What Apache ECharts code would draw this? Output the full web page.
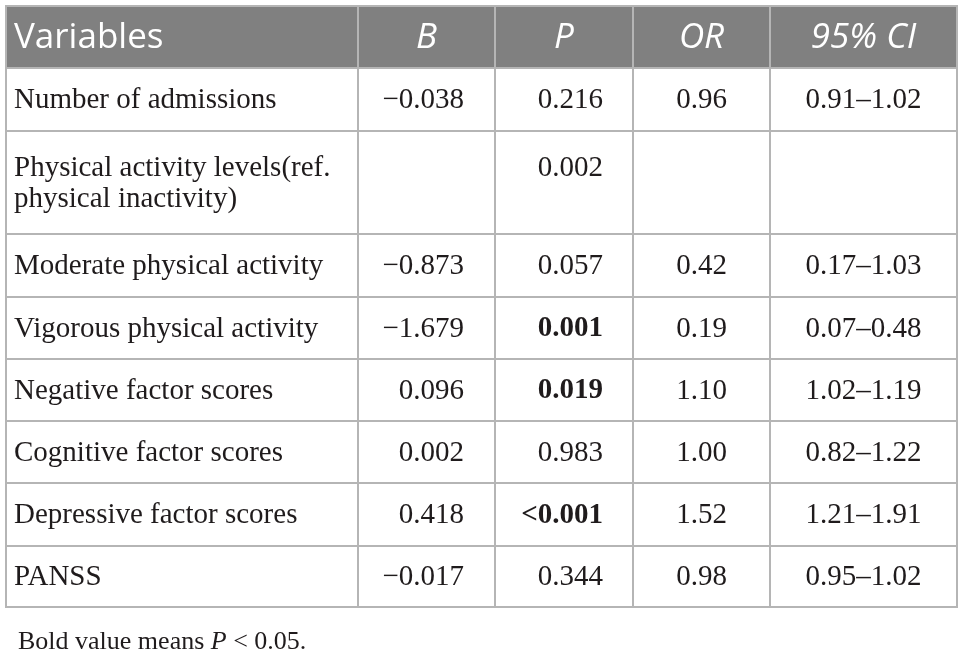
<!DOCTYPE html>
<html>
<head>
<meta charset="utf-8">
<title>Logistic regression table</title>
<script src="https://cdn.jsdelivr.net/npm/echarts@6/dist/echarts.min.js"></script>
<style>
html, body { margin: 0; padding: 0; background: #fff; }
</style>
</head>
<body>
<div id="main" style="width:964px;height:656px;"></div>
<script type="text/javascript">
// table content
var headers = ['Variables', 'B', 'P', 'OR', '95% CI'];
var variables = [
    'Number of admissions',
    'Physical activity levels(ref.\nphysical inactivity)',
    'Moderate physical activity',
    'Vigorous physical activity',
    'Negative factor scores',
    'Cognitive factor scores',
    'Depressive factor scores',
    'PANSS'
];
var bValues = ['\u22120.038', '', '\u22120.873', '\u22121.679', '0.096', '0.002', '0.418', '\u22120.017'];
var pValues = ['0.216', '0.002', '0.057', '0.001', '0.019', '0.983', '<0.001', '0.344'];
var pBold = [false, false, false, true, true, false, true, false];
var orValues = ['0.96', '', '0.42', '0.19', '1.10', '1.00', '1.52', '0.98'];
var ciValues = ['0.91\u20131.02', '', '0.17\u20131.03', '0.07\u20130.48', '1.02\u20131.19', '0.82\u20131.22', '1.21\u20131.91', '0.95\u20131.02'];

// layout (pixel units on hidden axes)
var colEdges = [6, 358, 495, 633, 770, 957];
var rowEdges = [6, 68, 131, 234, 297, 359, 421, 483, 546, 607];
var colAlign = ['left', 'right', 'right', 'center', 'center'];
var colPad = [8, 31, 30, 0, 0];
var lineH = 31;

var columns = [variables, bValues, pValues, orValues, ciValues];

var cells = [];
for (var r = 0; r <= variables.length; r++) {
    for (var c = 0; c < headers.length; c++) {
        cells.push([c, r]);
    }
}

function cellText(c, r) {
    if (r === 0) return headers[c];
    return columns[c][r - 1];
}

function renderCell(params, api) {
    var c = api.value(0);
    var r = api.value(1);
    var p0 = api.coord([colEdges[c], rowEdges[r]]);
    var p1 = api.coord([colEdges[c + 1], rowEdges[r + 1]]);
    var isHead = r === 0;
    var txt = cellText(c, r);

    var tx;
    var align = isHead ? (c === 0 ? 'left' : 'center') : colAlign[c];
    if (align === 'left') tx = p0[0] + colPad[c];
    else if (align === 'right') tx = p1[0] - colPad[c];
    else tx = (p0[0] + p1[0]) / 2;

    var ty = (p0[1] + p1[1]) / 2 + 1;
    // values sit on the first line of a two-line label
    if (!isHead && c > 0) {
        var nLines = variables[r - 1].split('\n').length;
        ty -= (nLines - 1) * lineH / 2;
    }

    var font;
    if (isHead) {
        font = (c === 0 ? '' : 'italic ') + '35px "Open Sans"';
    } else {
        font = (c === 2 && pBold[r - 1] ? 'bold ' : '') + '29px "Liberation Serif"';
    }

    return {
        type: 'group',
        children: [{
            type: 'rect',
            shape: { x: p0[0], y: p0[1], width: p1[0] - p0[0], height: p1[1] - p0[1] },
            style: { fill: isHead ? '#808080' : '#ffffff', stroke: '#b5b5b5', lineWidth: 2 }
        }, {
            type: 'text',
            x: tx,
            y: ty,
            style: {
                text: txt,
                font: font,
                fill: isHead ? '#ffffff' : '#1f1b1c',
                align: align,
                verticalAlign: 'middle',
                lineHeight: lineH
            }
        }]
    };
}

var myChart = echarts.init(document.getElementById('main'));

var option = {
    animation: false,
    backgroundColor: '#ffffff',
    title: {
        left: 13,
        top: 624,
        text: '{a|Bold value means }{i|P}{a| < 0.05.}',
        textStyle: {
            rich: {
                a: { fontFamily: 'Liberation Serif', fontSize: 26, fontWeight: 'normal', color: '#1f1b1c' },
                i: { fontFamily: 'Liberation Serif', fontSize: 26, fontWeight: 'normal', fontStyle: 'italic', color: '#1f1b1c' }
            }
        }
    },
    grid: { left: 0, right: 0, top: 0, bottom: 0 },
    xAxis: { type: 'value', min: 0, max: 964, show: false },
    yAxis: { type: 'value', min: 0, max: 656, inverse: true, show: false },
    series: [{
        type: 'custom',
        renderItem: renderCell,
        clip: false,
        data: cells
    }]
};

myChart.setOption(option);
</script>
</body>
</html>
